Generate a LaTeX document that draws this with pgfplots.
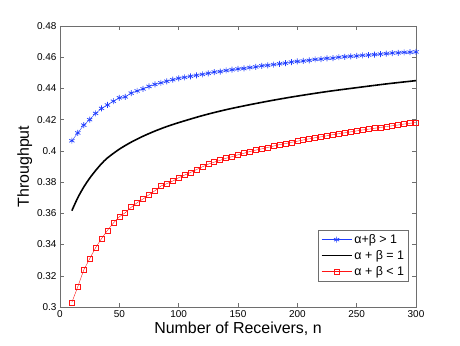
\documentclass[border=0pt]{standalone}
\usepackage{fontspec}
\setmainfont{Liberation Sans}
\usepackage{pgfplots}
\pgfplotsset{compat=1.18}
\definecolor{mblue}{RGB}{30,60,255}
\definecolor{mred}{RGB}{255,20,20}
\definecolor{framegray}{RGB}{110,110,110}

\pgfplotstableread{
n y
10 0.4065
15 0.4115
20 0.4165
25 0.4200
30 0.4240
35 0.4272
40 0.4294
45 0.4318
50 0.4340
55 0.4346
60 0.4370
65 0.4384
70 0.4397
75 0.4413
80 0.4426
85 0.4436
90 0.4446
95 0.4456
100 0.4465
105 0.4471
110 0.4478
115 0.4484
120 0.4490
125 0.4497
130 0.4505
135 0.4508
140 0.4515
145 0.4520
150 0.4525
155 0.4528
160 0.4534
165 0.4538
170 0.4545
175 0.4548
180 0.4553
185 0.4558
190 0.4562
195 0.4569
200 0.4573
205 0.4576
210 0.4580
215 0.4586
220 0.4588
225 0.4593
230 0.4594
235 0.4600
240 0.4603
245 0.4606
250 0.4608
255 0.4612
260 0.4614
265 0.4617
270 0.4620
275 0.4623
280 0.4627
285 0.4628
290 0.4631
295 0.4632
300 0.4634
}\greater

\pgfplotstableread{
n y
10 0.3617
15 0.3700
20 0.3768
25 0.3825
30 0.3874
35 0.3918
40 0.3955
50 0.4011
60 0.4056
70 0.4094
80 0.4127
90 0.4156
100 0.4181
120 0.4226
140 0.4264
160 0.4296
180 0.4325
200 0.4351
225 0.4380
250 0.4405
275 0.4429
300 0.4450
}\equal

\pgfplotstableread{
n y
10 0.3030
15 0.3130
20 0.3237
25 0.3309
30 0.3380
35 0.3438
40 0.3491
45 0.3538
50 0.3578
55 0.3604
60 0.3639
65 0.3668
70 0.3692
75 0.3719
80 0.3745
85 0.3775
90 0.3790
95 0.3807
100 0.3828
105 0.3845
110 0.3862
115 0.3880
120 0.3898
125 0.3915
130 0.3928
135 0.3940
140 0.3953
145 0.3963
150 0.3975
155 0.3985
160 0.3996
165 0.4005
170 0.4013
175 0.4022
180 0.4031
185 0.4040
190 0.4047
195 0.4055
200 0.4062
205 0.4070
210 0.4077
215 0.4084
220 0.4090
225 0.4097
230 0.4104
235 0.4110
240 0.4116
245 0.4122
250 0.4128
255 0.4134
260 0.4139
265 0.4145
270 0.4150
275 0.4156
280 0.4161
285 0.4166
290 0.4172
295 0.4177
300 0.4182
}\lesser

\begin{document}
\begin{tikzpicture}
\useasboundingbox (-60bp,-39bp) rectangle (400bp,307bp);
\begin{axis}[
  scale only axis, width=356bp, height=281bp,
  xmin=0, xmax=300, ymin=0.3, ymax=0.48,
  xtick={0,50,...,300},
  ytick={0.3,0.32,...,0.48},
  tick align=inside, major tick length=4bp,
  axis line style={framegray, line width=0.6pt}, tick style={framegray, line width=0.5pt},
  tick label style={font=\fontsize{10}{12}\selectfont, text=black},
  yticklabel style={/pgf/number format/fixed, /pgf/number format/precision=2},
  /pgf/number format/assume math mode=true,
  xlabel={Number of Receivers, n}, ylabel={Throughput},
  label style={font=\fontsize{16}{18}\selectfont},
  xlabel style={yshift=2bp}, ylabel style={yshift=-2bp},
  legend style={at={(0.98,0.09)}, anchor=south east, draw=framegray, line width=0.6pt,
    font=\fontsize{12.5}{14}\selectfont, row sep=1.5bp, inner sep=2.5bp,
    cells={anchor=west}},
  legend image code/.code={\draw[mark repeat=2, mark phase=2] plot coordinates {(0bp,0bp) (15bp,0bp) (30bp,0bp)};},
]
\addplot[color=mblue, line width=0.4pt, mark=asterisk, mark size=3bp, mark options={line width=0.7pt}] table[x=n, y=y] {\greater};
\addplot[color=black, line width=1.6pt, smooth] table[x=n, y=y] {\equal};
\addplot[color=mred, line width=0.4pt, mark=square, mark size=2.5bp, mark options={line width=0.6pt}] table[x=n, y=y] {\lesser};
\legend{α+β > 1, α + β = 1, α + β < 1}
\end{axis}
\end{tikzpicture}
\end{document}
